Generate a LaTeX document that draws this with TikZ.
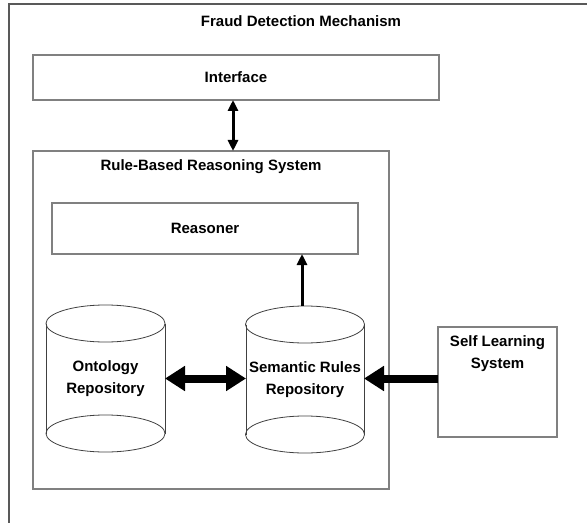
\documentclass[tikz,border=0pt]{standalone}
\usepackage{fontspec}
\setmainfont{Liberation Sans}
\usepackage{tikz}
\usetikzlibrary{arrows.meta, calc}

\tikzset{
  lbl/.style={font=\bfseries\fontsize{15bp}{22bp}\selectfont, align=center, inner sep=0pt},
  box/.style={draw=black!50, line width=1.1bp, inner sep=0pt, outer sep=0pt, lbl},
  repo/.style={inner sep=0pt, outer sep=0pt, minimum width=119bp, minimum height=147bp, lbl},
  drum/.style={draw=black!75, line width=0.8bp},
  thinarrow/.style={line width=3bp, -{Triangle[length=11bp,width=10bp]}},
  bigarrow/.style={line width=8bp, -{Triangle[length=20bp,width=24bp]}}
}

\newcommand{\drawdrum}[1]{%
  \draw[drum] ([yshift=-18.5bp]#1.north) ellipse [x radius=59.5, y radius=18.5];
  \draw[drum] ([yshift=18.5bp]#1.south) ellipse [x radius=59.5, y radius=18.5];
  \draw[drum] ([yshift=-18.5bp]#1.north west) -- ([yshift=18.5bp]#1.south west);
  \draw[drum] ([yshift=-18.5bp]#1.north east) -- ([yshift=18.5bp]#1.south east);
}

\begin{document}
\begin{tikzpicture}[x=1bp, y=-1bp]
        \useasboundingbox (0,0) rectangle (587,523);

        % Draw the outer frame
        \draw[draw=black!65, line width=1.4bp] (587,4) -- (9,4) -- (9,523);
        \node[lbl] (fdm) at (301,21.5) {Fraud Detection Mechanism};

        % Draw the interface and the reasoning system
        \node[box, minimum width=406bp, minimum height=45bp] (iface) at (236,77.5) {Interface};
        \node[box, minimum width=356bp, minimum height=338bp] (rbrs) at (211,320) {};
        \node[lbl] (rbrstitle) at (211,167) {Rule-Based Reasoning System};
        \node[box, minimum width=306bp, minimum height=51bp] (reasoner) at (205,228.5) {Reasoner};

        % Draw the two repositories
        \node[repo] (onto) at (105.5,378.5) {Ontology\\Repository};
        \node[repo, minimum width=118bp] (sem) at (305,379.5) {Semantic Rules\\Repository};
        \drawdrum{onto}
        \drawdrum{sem}

        % Draw the self learning system
        \node[box, minimum width=119bp, minimum height=110bp] (selfls) at (497.5,382) {};
        \node[lbl, anchor=north] (sltitle) at ([yshift=-8bp]selfls.north) {Self Learning\\System};

        % Draw the arrows
        \draw[thinarrow, {Triangle[length=11bp,width=10bp]}-{Triangle[length=11bp,width=10bp]}]
          ([xshift=-3bp]iface.south) -- ([xshift=-3bp]iface.south |- rbrs.north);
        \draw[thinarrow] ([xshift=-3bp]sem.north) -- ([xshift=-3bp]sem.north |- reasoner.south);
        \draw[bigarrow, {Triangle[length=20bp,width=24bp]}-{Triangle[length=20bp,width=24bp]}]
          (onto.east) -- (onto.east -| sem.west);
        \draw[bigarrow] (selfls.west |- onto.east) -- (sem.east |- onto.east);

\end{tikzpicture}
\end{document}
